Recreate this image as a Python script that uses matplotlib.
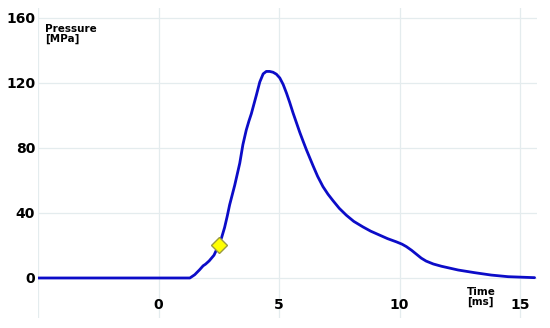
import matplotlib
matplotlib.use("Agg")
import matplotlib.pyplot as plt

time_ms = [-5, -2, 1.3, 1.5, 1.7, 1.85, 1.95, 2.1, 2.3, 2.49, 2.62, 2.74, 2.85, 2.95, 3.16,
           3.37, 3.5, 3.64, 3.75, 3.85, 4.06, 4.2, 4.34, 4.47, 4.61, 4.75, 4.89, 5.03,
           5.17, 5.31, 5.44, 5.58, 5.72, 5.86, 6.0, 6.13, 6.27, 6.41, 6.6, 6.82,
           7.03, 7.24, 7.5, 7.79, 8.1, 8.48, 8.8, 9.18, 9.5, 9.87, 10.1, 10.28,
           10.5, 10.7, 10.9, 11.1, 11.4, 11.74, 12.43, 13.1, 13.8, 14.5, 15.6]
pressure_mpa = [0, 0, 0, 2, 5, 7.5, 8.5, 10.5, 14, 20, 25, 31, 38, 45, 57,
                70.6, 82, 91, 96.5, 101, 112.5, 120.5, 125.5, 127, 127, 126.5, 125.3, 123,
                119, 113.6, 108, 101.5, 95.5, 89.5, 84, 79, 74, 69, 62.5, 56.2,
                51.5, 47.5, 42.8, 38.6, 34.8, 31.4, 28.8, 26.3, 24.2, 22.2, 20.8, 19.3,
                17.0, 14.6, 12.2, 10.4, 8.6, 7.2, 4.9, 3.3, 1.8, 0.8, 0.2]
marker_t = [2.49]
marker_p = [20]

x_ticks = [-5, 0, 5, 10, 15]
x_labels = ["", "0", "5", "10", "15"]
y_ticks = [0, 40, 80, 120, 160]
y_labels = ["0", "40", "80", "120", "160"]

plt.rcParams['font.family'] = ['DejaVu Sans']

fig = plt.figure(figsize=(5.5, 3.28), dpi=100)
ax = fig.add_axes([38/550, 1-318/328, (537-38)/550, (318-8)/328])
ax.set_xlim(-5, 15.7)
ax.set_ylim(-24.6, 166)

ax.plot(time_ms, pressure_mpa, color='#0C0CC8', lw=2.0, solid_capstyle='round',
        solid_joinstyle='round', zorder=3)
ax.plot(marker_t, marker_p, linestyle='none', marker='D', markersize=8,
        markerfacecolor='#FFFF00', markeredgecolor='#9A9A40', markeredgewidth=1, zorder=4)

ax.set_xticks(x_ticks)
ax.set_xticklabels(x_labels, fontsize=10, fontweight='bold')
ax.set_yticks(y_ticks)
ax.set_yticklabels(y_labels, fontsize=10, fontweight='bold')
ax.tick_params(axis='x', length=0, pad=-14.4)
ax.tick_params(axis='y', length=0, pad=2)
ax.grid(True, color='#E4ECEE', lw=0.9)
ax.set_axisbelow(True)
for s in ax.spines.values():
    s.set_visible(False)

ax.text(45/550, 1-24/328, "Pressure\n[MPa]", transform=fig.transFigure,
        fontsize=7.5, fontweight='bold', va='top', ha='left', linespacing=1.0)
ax.text(467/550, 1-287/328, "Time\n[ms]", transform=fig.transFigure,
        fontsize=7.5, fontweight='bold', va='top', ha='left', linespacing=1.0)

fig.savefig("out.png", dpi=100)
